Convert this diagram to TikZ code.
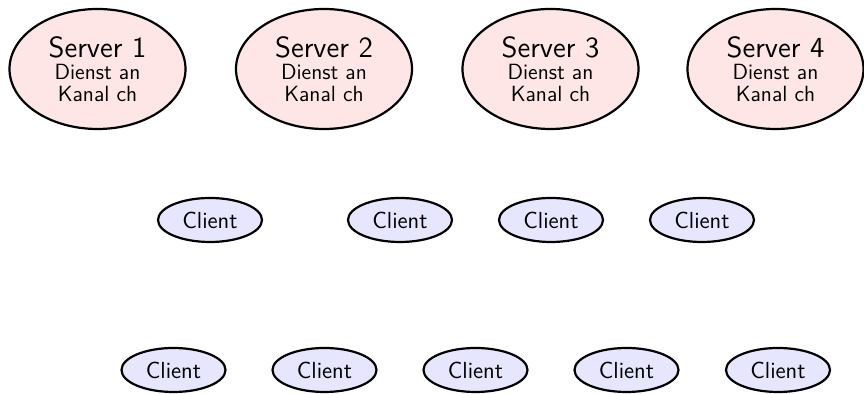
\documentclass[tikz,border=0pt]{standalone}
\usepackage{fontspec}
\usetikzlibrary{shapes.geometric}
\renewcommand{\familydefault}{\sfdefault}
\definecolor{serverfill}{RGB}{255,230,230}
\definecolor{clientfill}{RGB}{230,230,255}
\tikzset{
  server/.style={ellipse, draw=black, line width=1.1pt, fill=serverfill,
    minimum width=88pt, minimum height=60pt, inner sep=0pt, align=center},
  client/.style={ellipse, draw=black, line width=1.1pt, fill=clientfill,
    minimum width=52pt, minimum height=22pt, inner sep=0pt,
    font=\fontsize{11.6}{12}\selectfont},
}
\newcommand{\srvlabel}[1]{{\fontsize{14.6}{15}\selectfont Server #1}\\[-1pt]
  {\fontsize{11}{10}\selectfont Dienst an}\\[-1pt]
  {\fontsize{11}{10}\selectfont Kanal ch}}
\begin{document}
\begin{tikzpicture}[x=0.5pt, y=-0.5pt]
  \useasboundingbox (0,0) rectangle (864,394);
  % servers
  \node[server] (s1) at (97.5,69) {\srvlabel{1}};
  \node[server] (s2) at (324,69) {\srvlabel{2}};
  \node[server] (s3) at (550.5,69) {\srvlabel{3}};
  \node[server] (s4) at (775.5,69) {\srvlabel{4}};
  % middle row of clients
  \node[client] (c1) at (210,220) {Client};
  \node[client] (c2) at (400,220) {Client};
  \node[client] (c3) at (551,220) {Client};
  \node[client] (c4) at (702,220) {Client};
  % bottom row of clients
  \node[client] (d1) at (173.5,370) {Client};
  \node[client] (d2) at (324.5,370) {Client};
  \node[client] (d3) at (475.5,370) {Client};
  \node[client] (d4) at (626.5,370) {Client};
  \node[client] (d5) at (778,370) {Client};
\end{tikzpicture}
\end{document}
